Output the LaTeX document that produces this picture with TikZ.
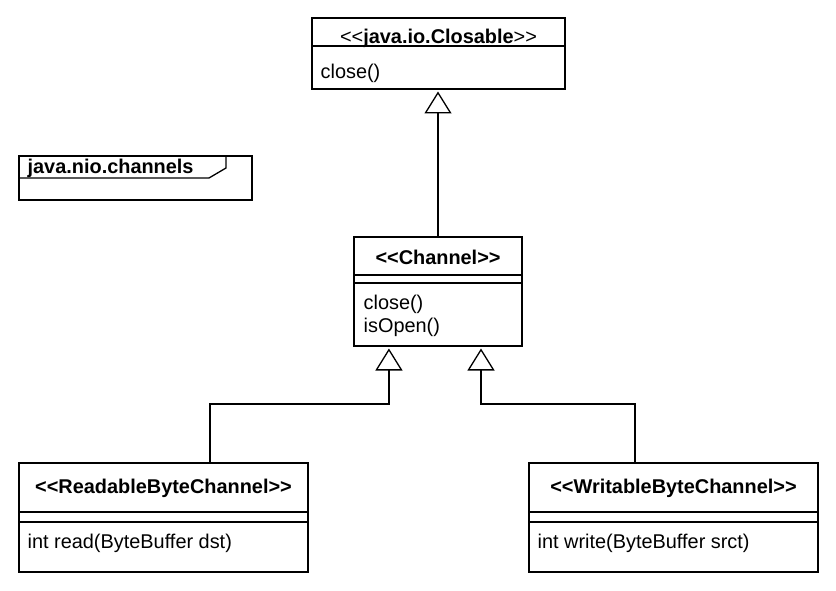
\documentclass[tikz,border=0pt]{standalone}
\usepackage{fontspec}
\newfontfamily\umlfont{Liberation Sans}
\usetikzlibrary{arrows.meta,calc}
\newcommand{\umlL}{<\kern0pt<}
\newcommand{\umlR}{>\kern0pt>}
\begin{document}
\begin{tikzpicture}[x=1pt,y=-1pt, line width=1.3pt,
  box/.style={draw, anchor=north west, inner sep=0pt, outer sep=0pt},
  txt/.style={font=\umlfont\fontsize{19.9}{23}\selectfont, inner sep=0pt},
  gen/.style={shorten >=2.5pt, -{Triangle[open,fill=white,length=22pt,width=27pt]}}]
\useasboundingbox (0,0) rectangle (836,591);
% java.io.Closable
\node[box, minimum width=253pt, minimum height=71pt] (closable) at (312,18) {};
\draw (closable.west |- 0,46) -- (closable.east |- 0,46);
\node[txt, anchor=base] (closableT) at (438.5,44) {\umlL\textbf{java.io.Closable}\umlR};
\node[txt, anchor=base west] (closableM) at (320,79) {close()};
% package
\node[box, minimum width=233pt, minimum height=44pt] (pkg) at (19,156) {};
\draw (pkg.west |- 0,178) -- (209,178) -- (226,168) -- (226,156);
\node[txt, anchor=base west] (pkgT) at (27,174) {\textbf{java.nio.channels}};
% Channel
\node[box, minimum width=168pt, minimum height=109pt] (channel) at (354,237) {};
\draw (channel.west |- 0,275) -- (channel.east |- 0,275);
\draw (channel.west |- 0,283) -- (channel.east |- 0,283);
\node[txt, anchor=base] (channelT) at (438,264) {\textbf{\umlL Channel\umlR}};
\node[txt, anchor=base west] (channelM) at (363,309) {close()};
\node[txt, anchor=base west] (channelM2) at (363,332) {isOpen()};
% ReadableByteChannel
\node[box, minimum width=289pt, minimum height=109pt] (readable) at (19,463) {};
\draw (readable.west |- 0,512) -- (readable.east |- 0,512);
\draw (readable.west |- 0,522) -- (readable.east |- 0,522);
\node[txt, anchor=base] (readableT) at (163.5,493) {\textbf{\umlL ReadableByteChannel\umlR}};
\node[txt, anchor=base west] (readableM) at (27,548) {int read(ByteBuffer dst)};
% WritableByteChannel
\node[box, minimum width=289pt, minimum height=109pt] (writable) at (529,463) {};
\draw (writable.west |- 0,512) -- (writable.east |- 0,512);
\draw (writable.west |- 0,522) -- (writable.east |- 0,522);
\node[txt, anchor=base] (writableT) at (673.5,493) {\textbf{\umlL WritableByteChannel\umlR}};
\node[txt, anchor=base west] (writableM) at (537,548) {int write(ByteBuffer srct)};
% connectors
\draw[gen] (channel.north) -- (channel.north |- closable.south);
\coordinate (rA) at ($(readable.north west)!0.661!(readable.north east)$);
\coordinate (cA) at ($(channel.south west)!0.208!(channel.south east)$);
\coordinate (wA) at ($(writable.north west)!0.367!(writable.north east)$);
\coordinate (cB) at ($(channel.south west)!0.756!(channel.south east)$);
\coordinate (jl) at (0,404);
\draw[gen] (rA) -- (rA |- jl) -- (cA |- jl) -- (cA);
\draw[gen] (wA) -- (wA |- jl) -- (cB |- jl) -- (cB);
\end{tikzpicture}
\end{document}
